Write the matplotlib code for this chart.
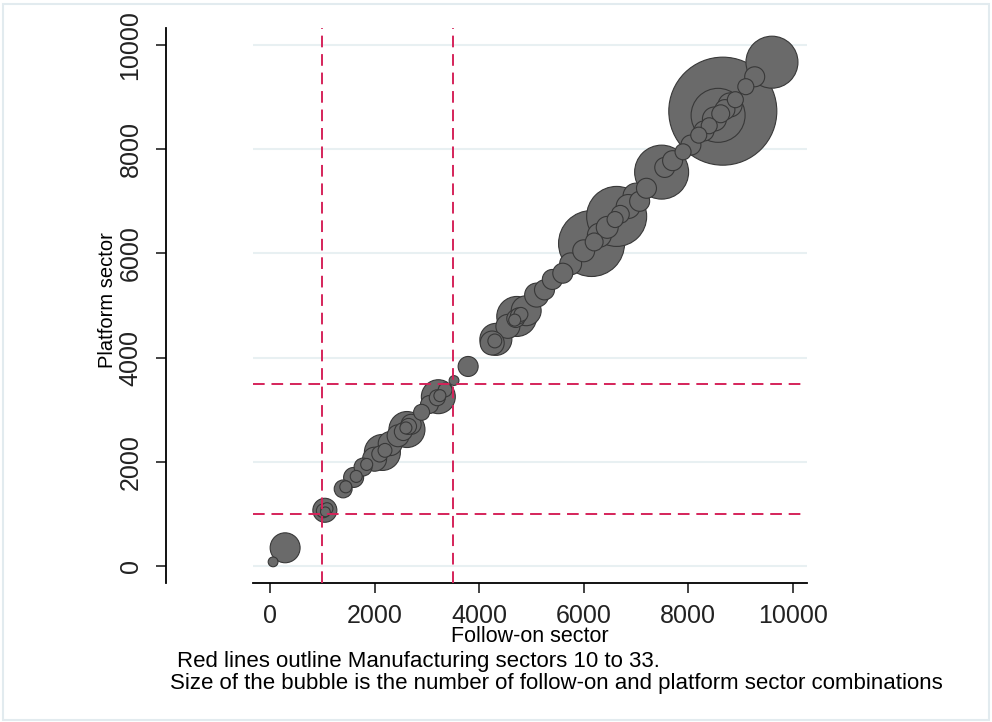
import numpy as np
import matplotlib.pyplot as plt
from matplotlib.patches import Rectangle

plt.rcParams['font.family'] = ['Liberation Sans', 'DejaVu Sans']

# === data: sector codes of follow-on / platform and number of combinations ===
follow_on = [60, 290, 1050, 1020, 1090, 1060, 1400, 1450, 1600, 1650, 1780, 1850,
             2000, 2150, 2100, 2200, 2300, 2450, 2620, 2550, 2650, 2700, 2600, 2900,
             3050, 3220, 3200, 3250, 3350, 3520, 3790, 4250, 4320, 4300, 4550, 4720,
             4700, 4750, 4800, 4680, 4900, 5100, 5250, 5400, 5600, 5750, 6000, 6150,
             6200, 6300, 6450, 6630, 6600, 6700, 6850, 7000, 7070, 7200, 7490, 7550,
             7700, 7900, 8050, 8200, 8300, 8400, 8660, 8570, 8500, 8620, 8700, 8800,
             8900, 9100, 9270, 9600]
platform = [80, 350, 1070, 1060, 1100, 1040, 1480, 1520, 1700, 1720, 1900, 1950,
            2050, 2180, 2150, 2220, 2350, 2500, 2620, 2580, 2680, 2720, 2650, 2950,
            3100, 3250, 3230, 3270, 3380, 3560, 3830, 4280, 4350, 4320, 4600, 4790,
            4750, 4800, 4830, 4720, 4900, 5200, 5300, 5500, 5620, 5800, 6050, 6190,
            6220, 6350, 6500, 6710, 6650, 6750, 6900, 7100, 7000, 7250, 7560, 7650,
            7780, 7950, 8080, 8270, 8350, 8450, 8730, 8650, 8580, 8680, 8760, 8850,
            8950, 9200, 9390, 9670]
n_combos = [6, 56, 36, 12, 9, 6, 20, 9, 25, 9, 20, 9,
            36, 81, 16, 12, 36, 30, 81, 20, 16, 25, 9, 16,
            20, 72, 16, 9, 12, 6, 25, 36, 64, 12, 36, 100,
            20, 16, 12, 9, 56, 36, 25, 25, 25, 30, 30, 272,
            20, 36, 30, 225, 16, 20, 36, 42, 25, 25, 182, 25,
            25, 16, 25, 16, 25, 16, 729, 182, 36, 20, 25, 36,
            16, 16, 25, 169]

manuf_bounds = [1000, 3500]
ticks = [0, 2000, 4000, 6000, 8000, 10000]

x = np.array(follow_on)
y = np.array(platform)
w = np.array(n_combos)
order = np.argsort(-w)  # big bubbles first, small ones on top

fig = plt.figure(figsize=(9.92, 7.22), dpi=100)
fig.patches.append(Rectangle((0.003, 0.003), 0.994, 0.992, transform=fig.transFigure,
                             fill=False, edgecolor='#e2ebef', linewidth=1.5))
ax = fig.add_axes([0.2550, 0.1925, 0.5585, 0.7687])

ax.set_xlim(-325, 10270)
ax.set_ylim(-326, 10326)

for t in ticks:
    ax.axhline(t, color='#e8f0f2', linewidth=1.5, zorder=0)

ax.scatter(x[order], y[order], s=w[order] * 8.3, facecolor='#6a6a6a',
           edgecolor='#383838', linewidth=0.8, zorder=2)

for b in manuf_bounds:
    ax.axvline(b, color='#d5245a', linewidth=1.4, dashes=(6, 3.5), zorder=3)
    ax.axhline(b, color='#d5245a', linewidth=1.4, dashes=(6, 3.5), zorder=3)

ax.spines['top'].set_visible(False)
ax.spines['right'].set_visible(False)
ax.spines['left'].set_position(('outward', 62.5))
ax.spines['left'].set_linewidth(1.3)
ax.spines['bottom'].set_linewidth(1.3)

ax.set_xticks(ticks)
ax.set_yticks(ticks)
ax.tick_params(axis='both', length=7, width=1.2, labelsize=18, colors='#222222')
ax.tick_params(axis='x', pad=8)
ax.tick_params(axis='y', pad=10)
plt.setp(ax.get_yticklabels(), rotation=90, va='center')

ax.set_xlabel("Follow-on sector", fontsize=15.5, labelpad=0)
ax.set_ylabel("Platform sector", fontsize=14.5)
ax.xaxis.set_label_coords(0.5, -0.078)
ax.yaxis.set_label_coords(-0.246, 0.51)

fig.text(177 / 992, 1 - 661 / 722, "Red lines outline Manufacturing sectors 10 to 33.",
         fontsize=16, va='center', ha='left')
fig.text(170 / 992, 1 - 683 / 722,
         "Size of the bubble is the number of follow-on and platform sector combinations",
         fontsize=16, va='center', ha='left')

fig.savefig("out.png", dpi=100)
